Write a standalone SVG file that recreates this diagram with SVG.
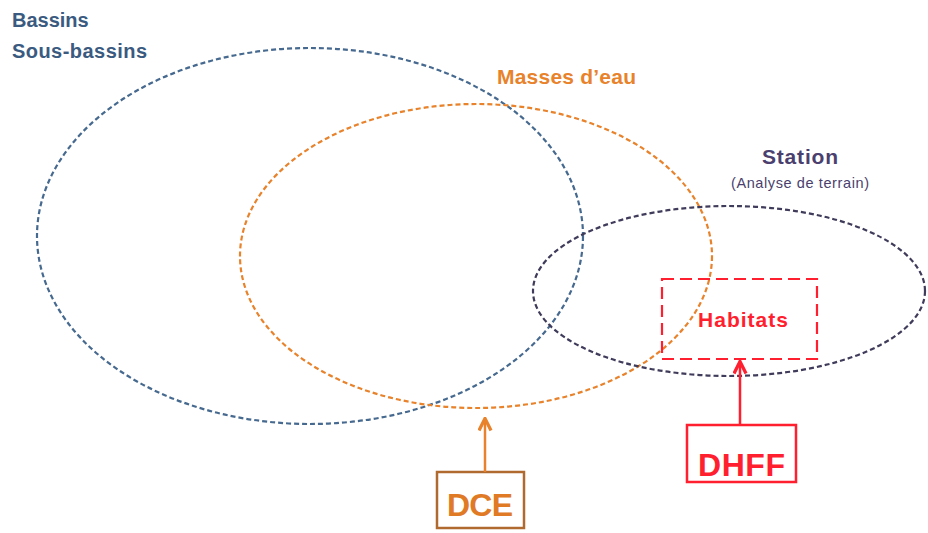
<svg xmlns="http://www.w3.org/2000/svg" width="928" height="533" viewBox="0 0 928 533">
<defs>
<style>
text{font-family:"Liberation Sans","Open Sans",sans-serif;font-weight:bold}
.ell{fill:none;stroke-width:2.2;stroke-dasharray:5 3}
</style>
<marker id="ahO" viewBox="0 0 10 10" refX="8" refY="5" markerWidth="6" markerHeight="6" orient="auto"><path d="M1,1 L9,5 L1,9" fill="none" stroke="#e8822b" stroke-width="2.2"/></marker>
<marker id="ahR" viewBox="0 0 10 10" refX="8" refY="5" markerWidth="6" markerHeight="6" orient="auto"><path d="M1,1 L9,5 L1,9" fill="none" stroke="#ff1f2e" stroke-width="2.2"/></marker>
</defs>
<rect width="928" height="533" fill="#ffffff"/>
<g id="bassins">
<ellipse class="ell" cx="310" cy="236" rx="273" ry="188" stroke="#46698f"/>
<text x="12" y="27" font-size="20" fill="#3a5a80">Bassins</text>
<text x="12" y="58" font-size="20" fill="#3a5a80" textLength="135">Sous-bassins</text>
</g>
<g id="masses">
<ellipse class="ell" cx="476" cy="256" rx="236" ry="152" stroke="#e8822b"/>
<text x="497" y="84" font-size="21" fill="#e8822b" textLength="139">Masses d’eau</text>
</g>
<g id="station">
<ellipse class="ell" cx="729" cy="291" rx="196" ry="85" stroke="#3f3b5a"/>
<text x="762" y="164" font-size="21" fill="#4a3f6e" textLength="76">Station</text>
<text x="731" y="188" font-size="14.5" fill="#4a3f6e" style="font-weight:normal" textLength="138">(Analyse de terrain)</text>
</g>
<g id="habitats">
<rect x="662" y="279" width="155" height="80" fill="none" stroke="#ff1f2e" stroke-width="2.2" stroke-dasharray="12 6"/>
<text x="698" y="327" font-size="21" fill="#ff1f2e" textLength="90">Habitats</text>
</g>
<g id="dce">
<rect x="437" y="472" width="87" height="56" fill="none" stroke="#b06a30" stroke-width="2.5"/>
<text x="447" y="516" font-size="32" fill="#e07a25" textLength="66">DCE</text>
</g>
<g id="dhff">
<rect x="687" y="425" width="109" height="57" fill="none" stroke="#ff1f2e" stroke-width="2.5"/>
<text x="698" y="476" font-size="32" fill="#ff1f2e" textLength="87">DHFF</text>
</g>
<g id="connectors">
<line x1="485" y1="472" x2="485" y2="420" stroke="#e8822b" stroke-width="2.5" marker-end="url(#ahO)"/>
<line x1="740" y1="425" x2="740" y2="363" stroke="#ff1f2e" stroke-width="2.5" marker-end="url(#ahR)"/>
</g>
</svg>
